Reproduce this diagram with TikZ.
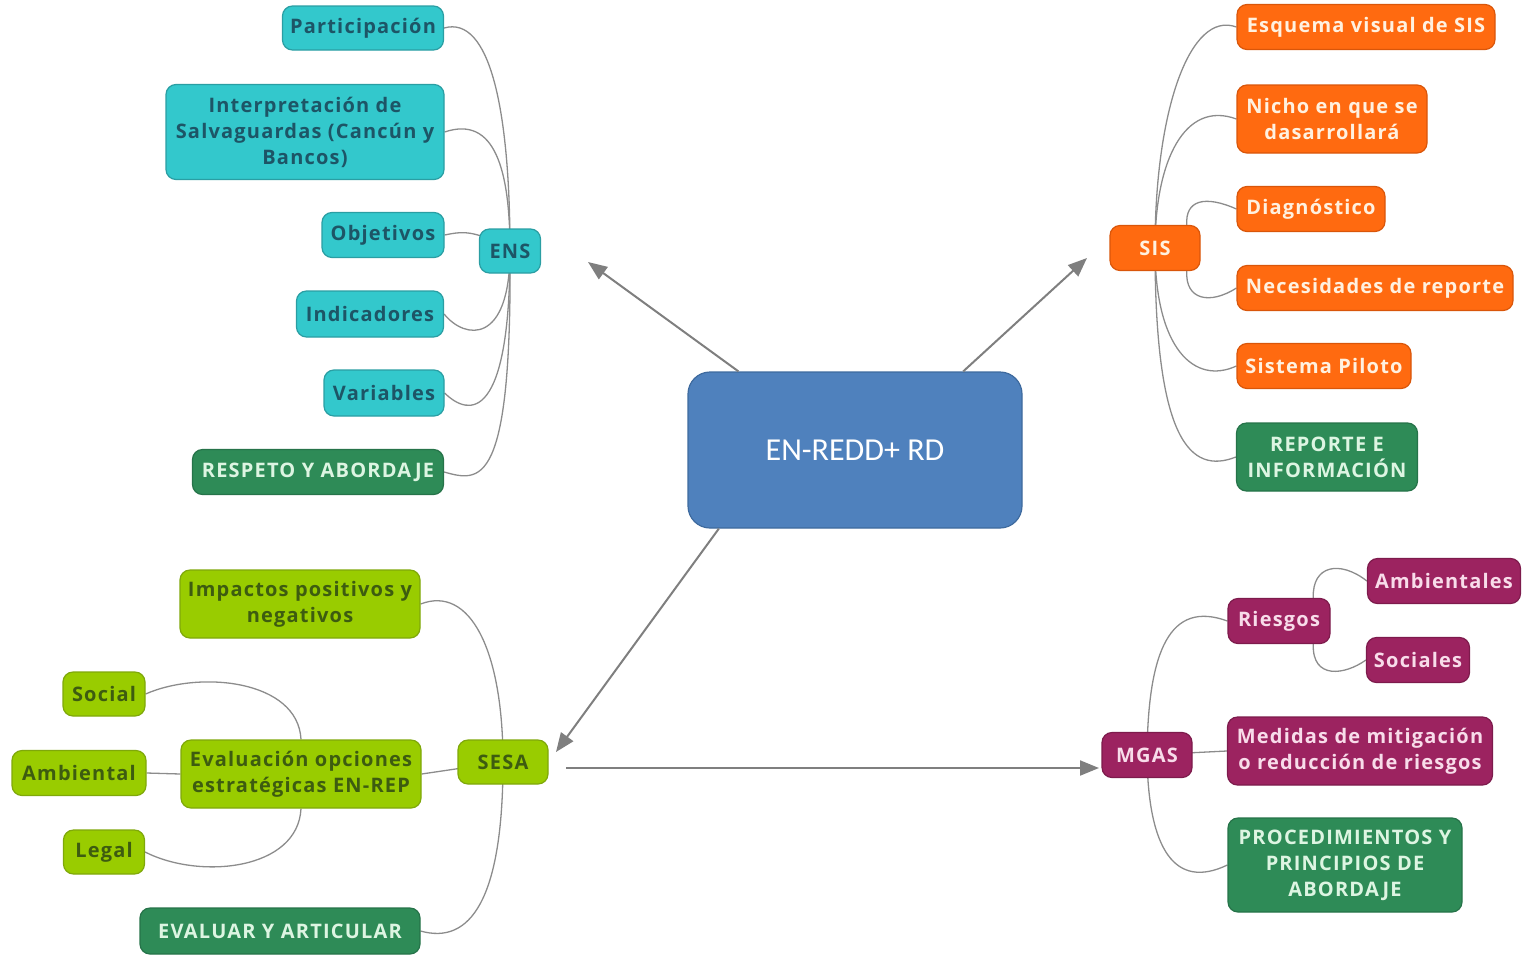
\documentclass[tikz,border=0pt]{standalone}
\usepackage{fontspec}
\setmainfont{Open Sans}[LetterSpace=6]
\newfontfamily\calibrifont{Carlito}
\usetikzlibrary{arrows.meta,backgrounds}

\definecolor{ensfill}{HTML}{33C8CC}
\definecolor{ensdraw}{HTML}{2A9EA3}
\definecolor{enstext}{HTML}{1D5566}
\definecolor{sisfill}{HTML}{FF6A10}
\definecolor{sisdraw}{HTML}{D9560A}
\definecolor{sistext}{HTML}{FFF1E0}
\definecolor{sesafill}{HTML}{99CC00}
\definecolor{sesadraw}{HTML}{7FA80A}
\definecolor{sesatext}{HTML}{3D5C10}
\definecolor{mgasfill}{HTML}{9C2360}
\definecolor{mgasdraw}{HTML}{7D1B4C}
\definecolor{mgastext}{HTML}{F8DCEA}
\definecolor{leaffill}{HTML}{2E8B57}
\definecolor{leafdraw}{HTML}{267349}
\definecolor{leaftext}{HTML}{DDF5E2}
\definecolor{reddfill}{HTML}{4F81BD}
\definecolor{redddraw}{HTML}{3E6A9E}
\definecolor{linkgray}{HTML}{8C8C8C}
\definecolor{arrowgray}{HTML}{7F7F7F}

\tikzstyle{every node}=[rounded corners=10pt, line width=1.2pt, align=center, inner sep=3pt, font=\bfseries\fontsize{20}{26}\selectfont]
\tikzstyle{ensbox}=[draw=ensdraw, fill=ensfill, text=enstext]
\tikzstyle{sisbox}=[draw=sisdraw, fill=sisfill, text=sistext]
\tikzstyle{sesabox}=[draw=sesadraw, fill=sesafill, text=sesatext]
\tikzstyle{mgasbox}=[draw=mgasdraw, fill=mgasfill, text=mgastext]
\tikzstyle{leafbox}=[draw=leafdraw, fill=leaffill, text=leaftext]
\tikzstyle{link}=[linkgray, line width=1.3pt]
\tikzstyle{pointer}=[arrowgray, line width=2pt, -{Triangle[length=19pt,width=15pt]}]

\begin{document}
\begin{tikzpicture}[x=1pt, y=-1pt]
	\useasboundingbox (0,0) rectangle (1522,956);
	%center
	\node[draw=redddraw, fill=reddfill, text=white, rounded corners=22pt, minimum width=334, minimum height=156, font=\calibrifont\fontsize{32}{38}\selectfont] (redd) at (855,450) {EN-REDD+ RD};
	%ENS
	\node[ensbox, minimum width=61, minimum height=44] (ens) at (510,251) {ENS};
	\node[ensbox, minimum width=161, minimum height=44] (part) at (363,28) {Participación};
	\node[ensbox, minimum width=278, minimum height=95] (interp) at (305,132) {Interpretación de\\Salvaguardas (Cancún y\\Bancos)};
	\node[ensbox, minimum width=122, minimum height=45] (obj) at (383,235) {Objetivos};
	\node[ensbox, minimum width=147, minimum height=46] (ind) at (370,314) {Indicadores};
	\node[ensbox, minimum width=120, minimum height=46] (var) at (384,393) {Variables};
	\node[leafbox, minimum width=251, minimum height=45] (resp) at (318,472) {RESPETO Y ABORDAJE};
	%SIS
	\node[sisbox, minimum width=90, minimum height=45] (sis) at (1155,248) {SIS};
	\node[sisbox, minimum width=258, minimum height=45] (esq) at (1366,27) {Esquema visual de SIS};
	\node[sisbox, minimum width=190, minimum height=68] (nicho) at (1332,119) {Nicho en que se\\dasarrollará};
	\node[sisbox, minimum width=148, minimum height=45] (diag) at (1311,209) {Diagnóstico};
	\node[sisbox, minimum width=276, minimum height=45] (nec) at (1375,288) {Necesidades de reporte};
	\node[sisbox, minimum width=174, minimum height=45] (pil) at (1324,366) {Sistema Piloto};
	\node[leafbox, minimum width=181, minimum height=68] (rep) at (1327,457) {REPORTE E\\INFORMACIÓN};
	%SESA
	\node[sesabox, minimum width=90, minimum height=44] (sesa) at (503,762) {SESA};
	\node[sesabox, minimum width=240, minimum height=68] (imp) at (300,604) {Impactos positivos y\\negativos};
	\node[sesabox, minimum width=240, minimum height=68] (eval) at (301,774) {Evaluación opciones\\estratégicas EN-REP};
	\node[sesabox, minimum width=82, minimum height=44] (soc) at (104,694) {Social};
	\node[sesabox, minimum width=134, minimum height=45] (amb) at (79,773) {Ambiental};
	\node[sesabox, minimum width=81, minimum height=44] (leg) at (104,852) {Legal};
	\node[leafbox, minimum width=280, minimum height=46] (evar) at (280,931) {EVALUAR Y ARTICULAR};
	%MGAS
	\node[mgasbox, minimum width=90, minimum height=45] (mgas) at (1147,755) {MGAS};
	\node[mgasbox, minimum width=102, minimum height=45] (ries) at (1279,621) {Riesgos};
	\node[mgasbox, minimum width=153, minimum height=45] (ambs) at (1444,581) {Ambientales};
	\node[mgasbox, minimum width=103, minimum height=45] (socs) at (1418,660) {Sociales};
	\node[mgasbox, minimum width=265, minimum height=68] (med) at (1360,751) {Medidas de mitigación\\o reducción de riesgos};
	\node[leafbox, minimum width=234, minimum height=94] (proc) at (1345,865) {PROCEDIMIENTOS Y\\PRINCIPIOS DE\\ABORDAJE};
	%arrow ends
	\coordinate (ensTip) at (588,262);
	\coordinate (sisTip) at (1087,258);
	\coordinate (sesaTip) at (556,752);
	\coordinate (sesaOut) at (566,768);
	\coordinate (mgasTip) at (1099,768);
	%arrows
	\draw[pointer] (redd.146) -- (ensTip);
	\draw[pointer] (redd.36) -- (sisTip);
	\draw[pointer] (redd.210) -- (sesaTip);
	\draw[pointer] (sesaOut) -- (mgasTip);
	%branches
	\begin{scope}[on background layer]
	\draw[link] (ens.center) .. controls (510,110) and (490,15) .. (part.east);
	\draw[link] (ens.center) .. controls (510,170) and (495,115) .. (interp.east);
	\draw[link] (ens.center) .. controls (475,228) and (460,232) .. (obj.east);
	\draw[link] (ens.center) .. controls (510,345) and (465,340) .. (ind.east);
	\draw[link] (ens.center) .. controls (510,420) and (470,418) .. (var.east);
	\draw[link] (ens.center) .. controls (512,490) and (480,482) .. (resp.east);
	\draw[link] (sis.center) .. controls (1155,110) and (1190,10) .. (esq.west);
	\draw[link] (sis.center) .. controls (1155,160) and (1185,100) .. (nicho.west);
	\draw[link] (sis.36) .. controls (1185,200) and (1205,195) .. (diag.west);
	\draw[link] (sis.-36) .. controls (1185,300) and (1210,305) .. (nec.west);
	\draw[link] (sis.center) .. controls (1155,350) and (1195,385) .. (pil.west);
	\draw[link] (sis.center) .. controls (1155,440) and (1190,475) .. (rep.west);
	\draw[link] (sesa.center) .. controls (503,650) and (470,585) .. (imp.east);
	\draw[link] (sesa.center) -- (eval.east);
	\draw[link] (sesa.center) .. controls (503,900) and (470,945) .. (evar.east);
	\draw[link] (eval.north) .. controls (298,680) and (200,670) .. (soc.east);
	\draw[link] (eval.west) -- (amb.east);
	\draw[link] (eval.south) .. controls (298,870) and (200,880) .. (leg.east);
	\draw[link] (mgas.center) .. controls (1148,650) and (1170,600) .. (ries.west);
	\draw[link] (mgas.center) -- (med.west);
	\draw[link] (mgas.center) .. controls (1148,850) and (1175,890) .. (proc.west);
	\draw[link] (ries.34) .. controls (1312,565) and (1340,560) .. (ambs.west);
	\draw[link] (ries.-34) .. controls (1312,680) and (1345,675) .. (socs.west);
	\end{scope}
\end{tikzpicture}
\end{document}
